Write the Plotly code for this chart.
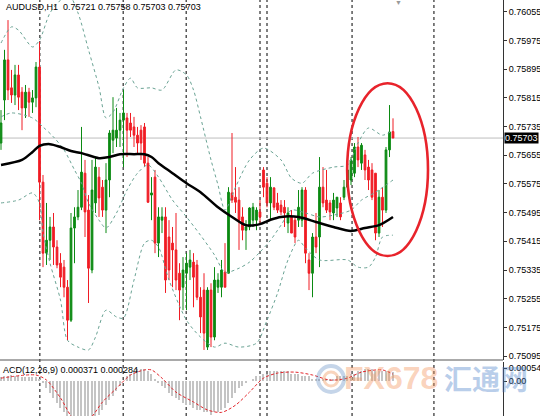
import plotly.graph_objects as go

# ---------------- data ----------------
open_ = [0.75689,0.75809,0.75921,0.75843,0.75823,0.75879,0.75831,0.75787,0.75831,0.75803,
         0.75815,0.75901,0.75580,0.75382,0.75418,0.75455,0.75399,0.75354,0.75343,0.75287,
         0.75195,0.75452,0.75483,0.75510,0.75605,0.75502,0.75335,0.75522,0.75594,0.75566,
         0.75502,0.75586,0.75697,0.75703,0.75725,0.75753,0.75759,0.75745,0.75734,0.75711,
         0.75725,0.75734,0.75633,0.75544,0.75594,0.75410,0.75474,0.75483,0.75427,0.75410,
         0.75391,0.75326,0.75287,0.75326,0.75343,0.75357,0.75349,0.75259,0.75279,0.75120,
         0.75279,0.75148,0.75287,0.75287,0.75329,0.75326,0.75550,0.75538,0.75530,0.75483,
         0.75446,0.75455,0.75474,0.75474,0.75497,0.75614,0.75577,0.75522,0.75564,0.75522,
         0.75516,0.75510,0.75466,0.75483,0.75474,0.75474,0.75474,0.75558,0.75363,0.75326,
         0.75427,0.75427,0.75566,0.75530,0.75522,0.75494,0.75508,0.75522,0.75538,0.75566,
         0.75586,0.75605,0.75678,0.75633,0.75656,0.75622,0.75614,0.75605,0.75438,0.75538,
         0.75502,0.75670,0.75721]
high = [0.75781,0.75949,0.76032,0.75893,0.75907,0.75907,0.75845,0.75851,0.75843,0.75837,
        0.75915,0.75971,0.75600,0.75522,0.75483,0.75494,0.75418,0.75382,0.75363,0.75307,
        0.75494,0.75510,0.75558,0.75734,0.75642,0.75544,0.75642,0.75650,0.75622,0.75586,
        0.75633,0.75725,0.75817,0.75787,0.75773,0.75837,0.75773,0.75773,0.75762,0.75734,
        0.75739,0.75745,0.75650,0.75594,0.75614,0.75510,0.75510,0.75510,0.75474,0.75455,
        0.75494,0.75354,0.75371,0.75382,0.75391,0.75382,0.75363,0.75287,0.75326,0.75287,
        0.75298,0.75343,0.75326,0.75363,0.75410,0.75566,0.75717,0.75622,0.75566,0.75510,
        0.75474,0.75510,0.75522,0.75510,0.75530,0.75622,0.75594,0.75594,0.75566,0.75550,
        0.75530,0.75530,0.75510,0.75502,0.75483,0.75558,0.75566,0.75566,0.75382,0.75438,
        0.75494,0.75650,0.75622,0.75614,0.75530,0.75550,0.75538,0.75538,0.75586,0.75633,
        0.75650,0.75689,0.75706,0.75689,0.75670,0.75642,0.75633,0.75605,0.75558,0.75566,
        0.75678,0.75795,0.75758]
low = [0.75670,0.75753,0.75809,0.75801,0.75795,0.75781,0.75725,0.75759,0.75762,0.75773,
       0.75789,0.75474,0.75343,0.75349,0.75363,0.75349,0.75340,0.75287,0.75259,0.75139,
       0.75190,0.75354,0.75474,0.75502,0.75427,0.75243,0.75326,0.75494,0.75483,0.75483,
       0.75438,0.75538,0.75661,0.75678,0.75678,0.75622,0.75650,0.75706,0.75678,0.75661,
       0.75642,0.75622,0.75522,0.75474,0.75382,0.75371,0.75438,0.75271,0.75307,0.75287,
       0.75279,0.75195,0.75223,0.75223,0.75307,0.75231,0.75251,0.75159,0.75112,0.75112,
       0.75120,0.75139,0.75271,0.75259,0.75287,0.75326,0.75522,0.75494,0.75391,0.75418,
       0.75391,0.75446,0.75455,0.75446,0.75466,0.75538,0.75510,0.75474,0.75502,0.75494,
       0.75488,0.75455,0.75438,0.75438,0.75410,0.75455,0.75455,0.75354,0.75279,0.75259,
       0.75382,0.75343,0.75510,0.75494,0.75474,0.75474,0.75483,0.75474,0.75530,0.75558,
       0.75572,0.75594,0.75622,0.75614,0.75586,0.75558,0.75530,0.75418,0.75427,0.75455,
       0.75494,0.75650,0.75703]
close = [0.75745,0.75921,0.75837,0.75823,0.75879,0.75817,0.75787,0.75831,0.75803,0.75815,
         0.75901,0.75580,0.75382,0.75418,0.75455,0.75399,0.75349,0.75315,0.75287,0.75195,
         0.75452,0.75483,0.75510,0.75608,0.75497,0.75340,0.75558,0.75622,0.75536,0.75502,
         0.75586,0.75717,0.75725,0.75725,0.75753,0.75773,0.75725,0.75725,0.75711,0.75689,
         0.75689,0.75633,0.75524,0.75550,0.75410,0.75483,0.75483,0.75307,0.75335,0.75391,
         0.75307,0.75279,0.75335,0.75354,0.75363,0.75315,0.75259,0.75204,0.75159,0.75279,
         0.75148,0.75307,0.75307,0.75335,0.75287,0.75552,0.75530,0.75524,0.75474,0.75446,
         0.75455,0.75508,0.75510,0.75502,0.75483,0.75566,0.75522,0.75566,0.75510,0.75502,
         0.75497,0.75494,0.75494,0.75438,0.75427,0.75510,0.75558,0.75382,0.75326,0.75427,
         0.75399,0.75566,0.75522,0.75502,0.75497,0.75530,0.75538,0.75483,0.75566,0.75614,
         0.75642,0.75678,0.75642,0.75683,0.75614,0.75586,0.75538,0.75438,0.75538,0.75502,
         0.75670,0.75720,0.75703]

# Bollinger bands (traced at selected bars)
ub_idx = [0,3,5,9,11,14,17,19,22,25,28,30,32,35,37,39,43,46,50,53,55,57,60,62,64,67,71,75,80,83,86,89,95,99,102,105,109,112]
ub_val = [0.75968,0.76013,0.76004,0.75957,0.75976,0.76052,0.76088,0.76110,0.76052,0.75949,
          0.75845,0.75759,0.75775,0.75843,0.75870,0.75843,0.75843,0.75837,0.75893,0.75879,
          0.75837,0.75762,0.75642,0.75572,0.75502,0.75566,0.75642,0.75675,0.75642,0.75591,
          0.75577,0.75605,0.75622,0.75628,0.75689,0.75731,0.75711,0.75725]
mb_idx = [0,3,9,12,15,18,21,23,25,28,30,33,36,39,42,45,49,53,57,61,64,68,71,74,77,80,83,87,91,95,100,103,107,112]
mb_val = [0.75762,0.75773,0.75759,0.75734,0.75706,0.75670,0.75614,0.75577,0.75522,0.75474,
          0.75452,0.75494,0.75558,0.75605,0.75628,0.75594,0.75530,0.75483,0.75432,0.75377,
          0.75329,0.75340,0.75357,0.75385,0.75418,0.75460,0.75502,0.75494,0.75483,0.75488,
          0.75502,0.75530,0.75552,0.75586]
lb_idx = [0,5,9,11,12,14,17,19,22,25,27,30,33,35,38,41,43,45,48,53,57,61,64,68,73,76,79,82,85,87,91,99,102,105,107,109,112]
lb_val = [0.75522,0.75530,0.75550,0.75522,0.75440,0.75354,0.75251,0.75139,0.75120,0.75112,
          0.75148,0.75223,0.75204,0.75201,0.75307,0.75410,0.75418,0.75399,0.75307,0.75195,
          0.75148,0.75120,0.75131,0.75120,0.75131,0.75195,0.75270,0.75363,0.75418,0.75396,
          0.75363,0.75363,0.75343,0.75343,0.75371,0.75427,0.75432]
# moving average (black)
ma_idx = [0,6,9,11,14,17,20,23,28,31,34,38,41,43,45,49,53,57,62,66,70,74,77,80,85,90,95,100,104,108,112]
ma_val = [0.75628,0.75642,0.75664,0.75681,0.75686,0.75678,0.75667,0.75661,0.75647,0.75650,
          0.75658,0.75658,0.75658,0.75650,0.75633,0.75605,0.75577,0.75552,0.75510,0.75483,
          0.75460,0.75463,0.75475,0.75483,0.75483,0.75469,0.75455,0.75444,0.75452,0.75460,0.75483]

# MACD(12,26,9)
macd_hist = [0.00015,0.0002,0.00022,0.00024,0.00022,0.0002,0.00018,0.00018,0.00016,0.00016,0.00018,
             0.0001,
             -0.0001,-0.0003,-0.0005,-0.0007,-0.0009,-0.0011,-0.0013,-0.0015,
             -0.0017,-0.0018,-0.0018,-0.0017,-0.0017,-0.0016,-0.0016,-0.0015,
             -0.0014,-0.0012,-0.001,-0.0008,-0.0006,-0.0004,-0.0002,0.0,
             0.0002,0.0003,0.0004,0.0005,0.0005,0.0005,0.0004,0.0003,0.0001,
             -0.0001,-0.0002,-0.0003,-0.0005,-0.0006,-0.0007,-0.0008,-0.0009,-0.001,-0.001,-0.0011,
             -0.0012,-0.0012,-0.0013,-0.0013,-0.0014,-0.0013,-0.0013,-0.0012,
             -0.0011,-0.0009,-0.0007,-0.0005,-0.0003,-0.0002,-0.0001,
             0.0,0.0001,0.0002,0.0002,0.0003,0.0003,0.0004,0.0004,0.0004,0.0004,
             0.0004,0.0004,0.0003,0.0003,0.0003,0.0002,0.0002,0.0002,0.0001,0.0001,
             0.0001,0.0001,0.0001,0.0001,0.0001,0.0002,0.0002,0.0002,0.0002,0.0003,
             0.0003,0.0004,0.0004,0.0005,0.0005,0.0005,0.0004,0.0004,0.0004,0.0004,0.0004,0.000371]
sig_idx = [0,10,13,17,21,25,29,33,37,41,43,46,50,55,59,63,67,71,75,79,84,89,94,99,103,109,112]
sig_val = [0.00012,0.00025,0.00004,-0.0007,-0.0016,-0.0016,-0.00087,-0.0003,0.00025,0.00046,
           0.00046,0.00012,-0.00046,-0.00087,-0.0012,-0.0013,-0.001,-0.00046,0.00012,0.00033,
           0.00037,0.00025,0.00004,0.00012,0.00037,0.00046,0.000284]

price_ticks = [0.76055,0.75975,0.75895,0.75815,0.75735,0.75655,0.75575,0.75495,0.75415,0.75335,0.75255,0.75175,0.75095]
macd_ticks = [0.00054, 0.0]
macd_tick_text = ["0.00054", "0.00"]
last_price = 0.75703
separators = [11.1, 34.9, 52.9, 74.0, 76.0, 100.3, 123.7]   # period separators (bar index)
highlight = dict(i0=98.9, i1=122.0, p0=0.75374, p1=0.75856)  # red ellipse
header = "AUDUSD,H1  0.75721 0.75758 0.75703 0.75703"
macd_label = "ACD(12,26,9) 0.000371 0.000284"

# ---------------- figure ----------------
W, H = 540, 416
XR = [-0.29, 143.43]
YR = [0.75084, 0.76088]
MR = [-0.00145, 0.00079]
AX_END = 503 / W
MAIN_BOTTOM = 1 - 360 / H
MACD_TOP = 1 - 362 / H
FONT = "Liberation Sans, Arial, sans-serif"
band_col = "#6aa394"

idx = list(range(len(open_)))
fig = go.Figure()

for bx, by in [(ub_idx, ub_val), (mb_idx, mb_val), (lb_idx, lb_val)]:
    fig.add_trace(go.Scatter(x=bx, y=by, mode="lines", line=dict(color=band_col, width=1, dash="dot", shape="spline", smoothing=0.8),
                             xaxis="x", yaxis="y", hoverinfo="skip"))

fig.add_trace(go.Candlestick(x=idx, open=open_, high=high, low=low, close=close,
                             increasing=dict(line=dict(color="#0b8a12", width=1), fillcolor="#0b8a12"),
                             decreasing=dict(line=dict(color="#f01c24", width=1), fillcolor="#f01c24"),
                             whiskerwidth=0, xaxis="x", yaxis="y"))

fig.add_trace(go.Scatter(x=ma_idx, y=ma_val, mode="lines", line=dict(color="#000000", width=2.5, shape="spline", smoothing=0.8),
                         xaxis="x", yaxis="y", hoverinfo="skip"))

fig.add_trace(go.Bar(x=idx, y=macd_hist, marker=dict(color="#c4c4c4", line=dict(width=0)), width=0.32,
                     xaxis="x2", yaxis="y2", hoverinfo="skip"))
fig.add_trace(go.Scatter(x=sig_idx, y=sig_val, mode="lines", line=dict(color="#e3262c", width=1, dash="3px,2px", shape="spline", smoothing=0.8),
                         xaxis="x2", yaxis="y2", hoverinfo="skip"))

shapes = []
for s in separators:
    shapes.append(dict(type="line", xref="x", yref="paper", x0=s, x1=s, y0=0, y1=1,
                       line=dict(color="#000000", width=1, dash="dot"), layer="below"))
shapes.append(dict(type="line", xref="paper", yref="y", x0=0, x1=AX_END, y0=last_price, y1=last_price,
                   line=dict(color="#bdbdbd", width=1), layer="below"))
shapes.append(dict(type="circle", xref="x", yref="y", x0=highlight["i0"], x1=highlight["i1"],
                   y0=highlight["p0"], y1=highlight["p1"], line=dict(color="#e8232b", width=2.6)))
shapes.append(dict(type="line", xref="paper", yref="paper", x0=0, x1=AX_END, y0=MAIN_BOTTOM, y1=MAIN_BOTTOM,
                   line=dict(color="#555555", width=1)))
# watermark logo ring
shapes.append(dict(type="circle", xref="paper", yref="paper", x0=318/W, x1=344/W, y0=1-392/H, y1=1-366/H,
                   line=dict(color="rgba(110,150,200,0.40)", width=4)))
shapes.append(dict(type="circle", xref="paper", yref="paper", x0=324/W, x1=338/W, y0=1-386/H, y1=1-372/H,
                   line=dict(color="rgba(240,150,90,0.40)", width=3)))

annotations = [
    dict(text=header, xref="paper", yref="paper", x=4/W, y=1-7/H, xanchor="left", yanchor="middle",
         showarrow=False, font=dict(family=FONT, size=9, color="#000000")),
    dict(text=macd_label, xref="paper", yref="paper", x=1/W, y=1-370/H, xanchor="left", yanchor="middle",
         showarrow=False, font=dict(family=FONT, size=9, color="#000000")),
    dict(text="0.75703", xref="paper", yref="y", x=AX_END + 1/W, y=last_price, xanchor="left", yanchor="middle",
         showarrow=False, bgcolor="#000000", borderpad=0, font=dict(family=FONT, size=9, color="#ffffff")),
    dict(text="▼", xref="paper", yref="paper", x=398/W, y=1-3/H, xanchor="center", yanchor="middle",
         showarrow=False, font=dict(family=FONT, size=7, color="#9a9a9a")),
    dict(text="<b>FX678</b>", xref="paper", yref="paper", x=391/W, y=1-378/H, xanchor="center", yanchor="middle",
         showarrow=False, font=dict(family=FONT, size=32, color="rgba(244,150,95,0.42)")),
    dict(text="<b>汇通网</b>", xref="paper", yref="paper", x=486/W, y=1-378/H, xanchor="center", yanchor="middle",
         showarrow=False, font=dict(family="Noto Sans CJK SC", size=28, color="rgba(70,125,200,0.38)")),
]

fig.update_layout(
    width=W, height=H, margin=dict(l=0, r=0, t=0, b=0, autoexpand=False),
    paper_bgcolor="#ffffff", plot_bgcolor="#ffffff", showlegend=False,
    font=dict(family=FONT, size=9, color="#000000"),
    xaxis=dict(domain=[0, AX_END], range=XR, showgrid=False, zeroline=False, showticklabels=False,
               ticks="", anchor="y", rangeslider=dict(visible=False), fixedrange=True),
    xaxis2=dict(domain=[0, AX_END], range=XR, showgrid=False, zeroline=False, showticklabels=False,
                ticks="", anchor="y2", matches="x"),
    yaxis=dict(domain=[MAIN_BOTTOM, 1], range=YR, side="right", anchor="x", showgrid=False, zeroline=False,
               tickvals=price_ticks, ticktext=[f"{v:.5f}" for v in price_ticks], ticks="outside", ticklen=3,
               tickcolor="#333333", showline=True, linecolor="#333333", linewidth=1, automargin=False,
               tickfont=dict(family=FONT, size=9, color="#000000")),
    yaxis2=dict(domain=[0, MACD_TOP], range=MR, side="right", anchor="x2", showgrid=False, zeroline=False,
                tickvals=macd_ticks, ticktext=macd_tick_text, ticks="outside", ticklen=3, tickcolor="#333333",
                showline=True, linecolor="#333333", linewidth=1, automargin=False,
                tickfont=dict(family=FONT, size=9, color="#000000")),
    shapes=shapes, annotations=annotations, bargap=0,
)

fig.write_html("out.html", config={"displayModeBar": False},
               post_script="document.body.style.margin='0';document.body.style.padding='0';document.body.style.overflow='hidden';")
